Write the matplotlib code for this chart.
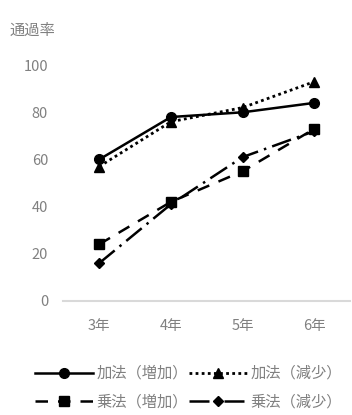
import matplotlib.pyplot as plt

plt.rcParams['font.family'] = ['Noto Sans CJK JP', 'DejaVu Sans']

grades = ['3年', '4年', '5年', '6年']
add_inc = [60, 78, 80, 84]
add_dec = [57, 76, 82, 93]
mul_inc = [24, 42, 55, 73]
mul_dec = [16, 41, 61, 72]

fig = plt.figure(figsize=(3.52, 4.15), dpi=100)
ax = fig.add_axes([0.18, 0.275, 0.815, 0.568])

x = range(len(grades))
l1, = ax.plot(x, add_inc, color='black', lw=1.8, marker='o', ms=7, label='加法（増加）')
l2, = ax.plot(x, add_dec, color='black', lw=2, ls=(0, (1, 1.2)), marker='^', ms=7, label='加法（減少）')
l3, = ax.plot(x, mul_inc, color='black', lw=1.8, ls=(0, (5, 4)), marker='s', ms=7, label='乗法（増加）')
l4, = ax.plot(x, mul_dec, color='black', lw=1.8, ls=(0, (8, 2.5, 1, 2.5)), marker='D', ms=5, label='乗法（減少）')

ax.set_xlim(-0.5, 3.5)
ax.set_ylim(0, 100)
ax.set_yticks([0, 20, 40, 60, 80, 100])
ax.set_xticks(list(x))
ax.set_xticklabels(grades)
for s in ['top', 'right', 'left']:
    ax.spines[s].set_visible(False)
ax.spines['bottom'].set_color('#d9d9d9')
ax.spines['bottom'].set_linewidth(1.5)
ax.tick_params(length=0, colors='#808080', labelsize=10.5)
ax.tick_params(axis='y', pad=11)
ax.tick_params(axis='x', pad=13)

fig.text(0.028, 0.928, '通過率', color='#808080', fontsize=11, va='center')

# row-wise order: matplotlib fills columns first
fig.legend([l1, l3, l2, l4], [l1.get_label(), l3.get_label(), l2.get_label(), l4.get_label()],
           loc='center left', bbox_to_anchor=(0.1, 0.066), ncol=2, frameon=False,
           fontsize=11, labelcolor='#808080', handlelength=3.8, handletextpad=0.2,
           columnspacing=0.1, labelspacing=0.75, borderpad=0, borderaxespad=0)

fig.savefig('out.png', dpi=100)
